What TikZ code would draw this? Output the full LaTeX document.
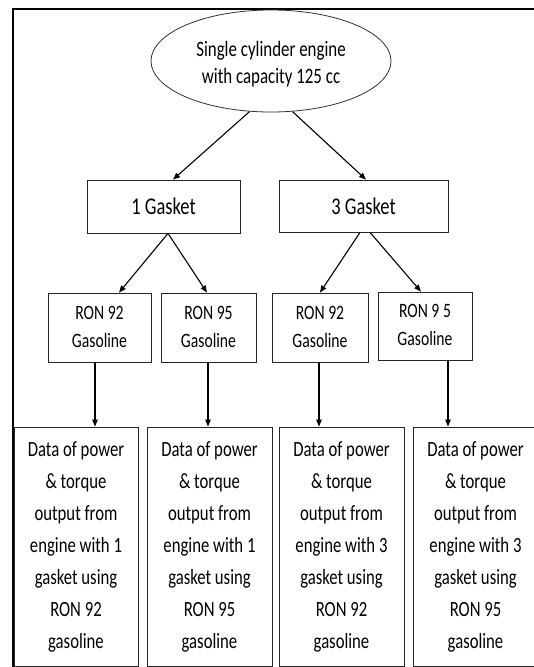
\documentclass[tikz,border=0pt]{standalone}
\usepackage{fontspec}
\setmainfont{Carlito}
\usetikzlibrary{arrows.meta,shapes.geometric}
\begin{document}
\begin{tikzpicture}[x=1pt,y=-1pt,
  box/.style={draw=black!85,line width=0.8pt,rectangle,inner sep=0pt},
  arr/.style={line width=1.1pt,-{Triangle[length=7pt,width=5.5pt]}},
  tx/.style={inner sep=0pt}]
\useasboundingbox (0,0) rectangle (534,667);
\clip (0,0) rectangle (534,667);
\fill[white] (0,0) rectangle (534,667);
\draw[line width=2pt] (13,700) -- (13,9) -- (560,9);
% ellipse
\node[draw=black!80,line width=0.8pt,ellipse,minimum width=240pt,minimum height=102pt,inner sep=0pt] (top) at (271,61) {};
\node[tx] (toptext) at (271,65) {\fontsize{16.9}{20.8}\selectfont\scalebox{1}[1.3]{\begin{tabular}{@{}c@{}}Single cylinder engine\\with capacity 125 cc\end{tabular}}};
% gasket boxes
\node[box,minimum width=153pt,minimum height=53pt] (g1) at (163.5,206.5) {\fontsize{18.5}{22}\selectfont\scalebox{1}[1.3]{1 Gasket}};
\node[box,minimum width=169pt,minimum height=52pt] (g3) at (363.5,206) {\fontsize{18.5}{22}\selectfont\scalebox{1}[1.3]{3 Gasket}};
% RON boxes
\node[box,minimum width=103pt,minimum height=69pt] (r1) at (99.5,327.5) {\fontsize{15.7}{21.5}\selectfont\scalebox{1}[1.3]{\begin{tabular}{@{}c@{}}RON 92\\Gasoline\end{tabular}}};
\node[box,minimum width=95pt,minimum height=69pt] (r2) at (208.5,327.5) {\fontsize{15.7}{21.5}\selectfont\scalebox{1}[1.3]{\begin{tabular}{@{}c@{}}RON 95\\Gasoline\end{tabular}}};
\node[box,minimum width=96pt,minimum height=69pt] (r3) at (320,327.5) {\fontsize{15.7}{21.5}\selectfont\scalebox{1}[1.3]{\begin{tabular}{@{}c@{}}RON 92\\Gasoline\end{tabular}}};
\node[box,minimum width=94pt,minimum height=68pt] (r4) at (425,326) {\fontsize{15.7}{21.5}\selectfont\scalebox{1}[1.3]{\begin{tabular}{@{}c@{}}RON 9 5\\Gasoline\end{tabular}}};
% data boxes
\node[box,minimum width=124pt,minimum height=239pt] (d1) at (76,546.5) {\fontsize{16.7}{24.6}\selectfont\scalebox{1}[1.3]{\begin{tabular}{@{}c@{}}Data of power\\\& torque\\output from\\engine with 1\\gasket using\\RON 92\\gasoline\end{tabular}}};
\node[box,minimum width=125pt,minimum height=239pt] (d2) at (209.5,546.5) {\fontsize{16.7}{24.6}\selectfont\scalebox{1}[1.3]{\begin{tabular}{@{}c@{}}Data of power\\\& torque\\output from\\engine with 1\\gasket using\\RON 95\\gasoline\end{tabular}}};
\node[box,minimum width=125pt,minimum height=239pt] (d3) at (341.5,546.5) {\fontsize{16.7}{24.6}\selectfont\scalebox{1}[1.3]{\begin{tabular}{@{}c@{}}Data of power\\\& torque\\output from\\engine with 3\\gasket using\\RON 92\\gasoline\end{tabular}}};
\node[box,minimum width=125pt,minimum height=239pt] (d4) at (475.5,546.5) {\fontsize{16.7}{24.6}\selectfont\scalebox{1}[1.3]{\begin{tabular}{@{}c@{}}Data of power\\\& torque\\output from\\engine with 3\\gasket using\\RON 95\\gasoline\end{tabular}}};
% arrows
\draw[arr] (top.247) -- ([xshift=9.5pt]g1.north);
\draw[arr] (top.293) -- ([xshift=2.5pt]g3.north);
\draw[arr] ([xshift=4.5pt]g1.south) -- ([xshift=19.5pt]r1.north);
\draw[arr] ([xshift=4.5pt]g1.south) -- ([xshift=-1.5pt]r2.north);
\draw[arr] ([xshift=-3.5pt]g3.south) -- (r3.north);
\draw[arr] ([xshift=6.5pt]g3.south) -- ([xshift=-4pt]r4.north);
\draw[arr] ([xshift=-4.5pt]r1.south) -- ([xshift=-4.5pt]r1.south |- d1.north);
\draw[arr] ([xshift=-0.5pt]r2.south) -- ([xshift=-0.5pt]r2.south |- d2.north);
\draw[arr] ([xshift=-1pt]r3.south) -- ([xshift=-1pt]r3.south |- d3.north);
\draw[arr] ([xshift=23pt]r4.south) -- ([xshift=23pt]r4.south |- d4.north);
\end{tikzpicture}
\end{document}
